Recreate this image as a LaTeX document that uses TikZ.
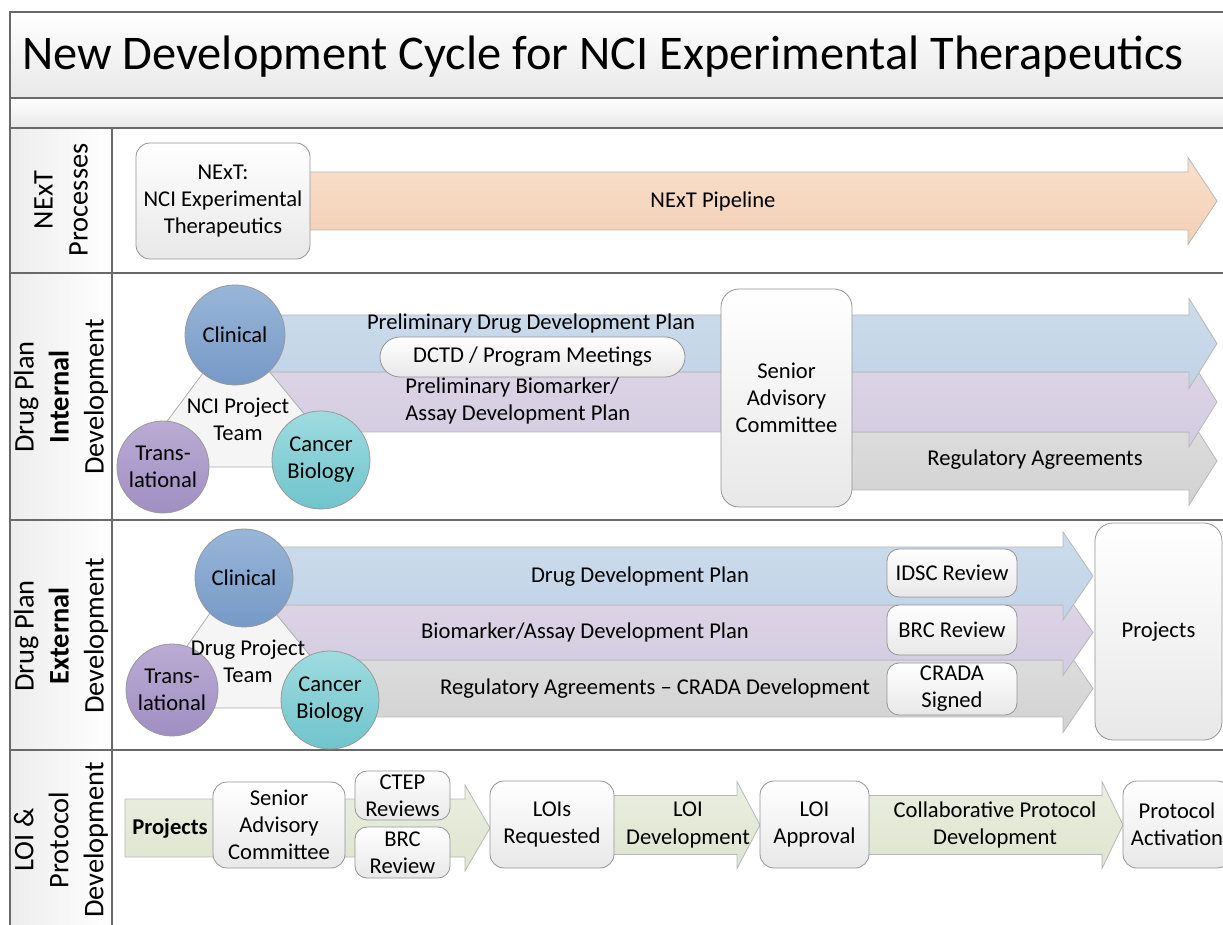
\documentclass[tikz,border=0pt]{standalone}
\usepackage{fontspec}
\setmainfont{Carlito}
\usepackage{xcolor}
\usepackage{tikz}
\usetikzlibrary{positioning}

\definecolor{frameline}{RGB}{105,105,105}
\definecolor{orangeT}{RGB}{249,224,204}
\definecolor{orangeB}{RGB}{243,207,180}
\definecolor{blueT}{RGB}{204,220,236}
\definecolor{blueB}{RGB}{192,211,230}
\definecolor{purpT}{RGB}{221,214,230}
\definecolor{purpB}{RGB}{211,203,224}
\definecolor{greyT}{RGB}{222,222,222}
\definecolor{greyB}{RGB}{210,210,210}
\definecolor{greenT}{RGB}{234,238,224}
\definecolor{greenB}{RGB}{222,229,207}
\definecolor{clinT}{RGB}{152,182,216}
\definecolor{clinB}{RGB}{118,153,198}
\definecolor{transT}{RGB}{186,172,212}
\definecolor{transB}{RGB}{160,142,194}
\definecolor{biolT}{RGB}{158,220,224}
\definecolor{biolB}{RGB}{112,196,204}

\newcommand{\bodyfont}{\fontsize{11.3}{13.6}\selectfont}
% block arrow: style, x start, x head, x tip, y centre, body half, head half
\newcommand{\flowarrow}[7]{%
  \path[#1] (#2,#5-#6) -- (#3,#5-#6) -- (#3,#5-#7) -- (#4,#5)
    -- (#3,#5+#7) -- (#3,#5+#6) -- (#2,#5+#6) -- cycle;}

\begin{document}
\begin{tikzpicture}[
  x=0.5pt, y=-0.5pt,
  every node/.style={font=\bodyfont, align=center, inner sep=0pt},
  frame/.style={draw=frameline, line width=0.75pt},
  band/.style={top color=white, bottom color=black!9},
  labelcol/.style={left color=black!7, right color=white},
  lanelabel/.style={rotate=90, font=\fontsize{14.2}{17.5}\selectfont},
  box/.style={draw=black!42, line width=0.4pt, rounded corners=7pt,
              top color=white, bottom color=black!9},
  pill/.style={box, rounded corners=10pt},
  circ/.style={circle, draw=black!40, line width=0.4pt},
  team/.style={draw=black!32, line width=0.4pt, fill=black!4},
  arr/.style={draw=black!28, line width=0.4pt},
  arrorange/.style={arr, top color=orangeT, bottom color=orangeB},
  arrblue/.style={arr, top color=blueT, bottom color=blueB},
  arrpurp/.style={arr, top color=purpT, bottom color=purpB},
  arrgrey/.style={arr, top color=greyT, bottom color=greyB},
  arrgreen/.style={arr, top color=greenT, bottom color=greenB},
]
\useasboundingbox (0,0) rectangle (1223,925);
\clip (0,0) rectangle (1223,925);

% bands and lane frame
\path[band] (10,12) rectangle (1240,98);
\path[band] (10,98) rectangle (1240,128);
\path[labelcol] (10,128) rectangle (112,940);
\draw[frame] (1240,12) -- (10,12) -- (10,940);
\draw[frame] (10,98) -- (1240,98);
\foreach \yy in {128,273,520,750}
  \draw[frame] (10,\yy) -- (1240,\yy);
\draw[frame] (112,128) -- (112,940);

\node[font=\fontsize{24.2}{29}\selectfont] (title) at (603,57)
  {New Development Cycle for NCI Experimental Therapeutics};

% lane labels
\node[lanelabel] (lnext) at (61,200) {NExT\\Processes};
\node[lanelabel] (lint)  at (61,397) {Drug Plan\\\textbf{Internal}\\Development};
\node[lanelabel] (lext)  at (61,636) {Drug Plan\\\textbf{External}\\Development};
\node[lanelabel] (lloi)  at (61,840) {LOI \&\\Protocol\\Development};

% NExT processes
\flowarrow{arrorange}{300}{1188}{1217}{201}{29}{43.5}
\node[box, minimum width=87pt, minimum height=58pt] (next) at (223,201)
  {NExT:\\NCI Experimental\\Therapeutics};
\node (pipe) at (713,201) {NExT Pipeline};

% internal development
\flowarrow{arrgrey}{800}{1189}{1217}{461}{29}{44}
\flowarrow{arrpurp}{260}{1189}{1217}{402}{30}{45}
\flowarrow{arrblue}{270}{1189}{1217}{343.5}{28.5}{45}
\path[team] (235,330) -- (133,467) -- (348,467) -- cycle;
\node[circ, minimum size=50pt, top color=clinT, bottom color=clinB] (clin1) at (235,335) {Clinical};
\node[circ, minimum size=46pt, top color=transT, bottom color=transB] (trans1) at (163,467) {Trans-\\lational};
\node[circ, minimum size=49pt, top color=biolT, bottom color=biolB] (biol1) at (321,460) {Cancer\\Biology};
\node (team1) at (238,419) {NCI Project\\Team};
\node (pdp) at (531,324) {Preliminary Drug Development Plan};
\node[pill, minimum width=152.5pt, minimum height=20pt] (dctd) at (532.5,357)
  {DCTD / Program Meetings};
\node[anchor=west, align=left] (pbp) at (405,401) {Preliminary Biomarker/\\Assay Development Plan};
\node[box, rounded corners=9pt, minimum width=65.5pt, minimum height=109pt] (sac1) at (786.5,398)
  {Senior\\Advisory\\Committee};
\node (reg1) at (1035,460) {Regulatory Agreements};

% external development
\flowarrow{arrgrey}{300}{1063}{1093}{688.5}{28.5}{44}
\flowarrow{arrpurp}{270}{1063}{1093}{632.5}{27.5}{43}
\flowarrow{arrblue}{280}{1063}{1093}{576}{29}{44}
\path[team] (240,570) -- (144,708) -- (353,708) -- cycle;
\node[circ, minimum size=49pt, top color=clinT, bottom color=clinB] (clin2) at (244,578) {Clinical};
\node[circ, minimum size=46pt, top color=transT, bottom color=transB] (trans2) at (172,690) {Trans-\\lational};
\node[circ, minimum size=49pt, top color=biolT, bottom color=biolB] (biol2) at (330,700) {Cancer\\Biology};
\node (team2) at (248,661) {Drug Project\\Team};
\node (ddp) at (640,577) {Drug Development Plan};
\node (bap) at (585,632) {Biomarker/Assay Development Plan};
\node (reg2) at (655,689) {Regulatory Agreements -- CRADA Development};
\node[box, rounded corners=6pt, minimum width=65pt, minimum height=24pt] (idsc) at (952,573) {IDSC Review};
\node[box, rounded corners=6pt, minimum width=65pt, minimum height=25pt] (brc1) at (952,630) {BRC Review};
\node[box, rounded corners=6pt, minimum width=65pt, minimum height=26pt] (crada) at (952,689) {CRADA\\Signed};
\node[box, rounded corners=9pt, minimum width=63.5pt, minimum height=108.5pt] (proj1) at (1158.5,631.5) {Projects};

% LOI and protocol development
\flowarrow{arrgreen}{125}{465}{490}{828}{29}{43}
\flowarrow{arrgreen}{600}{737}{760}{825}{29.5}{43.5}
\flowarrow{arrgreen}{850}{1102}{1123}{825}{29.5}{43.5}
\node[font=\bodyfont\bfseries] (proj2) at (170,828) {Projects};
\node[box, minimum width=66pt, minimum height=43pt] (sac2) at (279,825) {Senior\\Advisory\\Committee};
\node[box, rounded corners=6pt, minimum width=47.5pt, minimum height=24.5pt] (ctep) at (402.5,795.5) {CTEP\\Reviews};
\node[box, rounded corners=6pt, minimum width=47.5pt, minimum height=25.5pt] (brc2) at (402.5,852.5) {BRC\\Review};
\node[box, minimum width=62pt, minimum height=43.5pt] (lois) at (552,824.5) {LOIs\\Requested};
\node (loidev) at (688,825) {LOI\\Development};
\node[box, minimum width=54.5pt, minimum height=43.5pt] (loiapp) at (814.5,824.5) {LOI\\Approval};
\node (collab) at (995,825) {Collaborative Protocol\\Development};
\node[box, minimum width=54pt, minimum height=43.5pt] (activ) at (1177,824.5) {Protocol\\Activation};
\end{tikzpicture}
\end{document}
